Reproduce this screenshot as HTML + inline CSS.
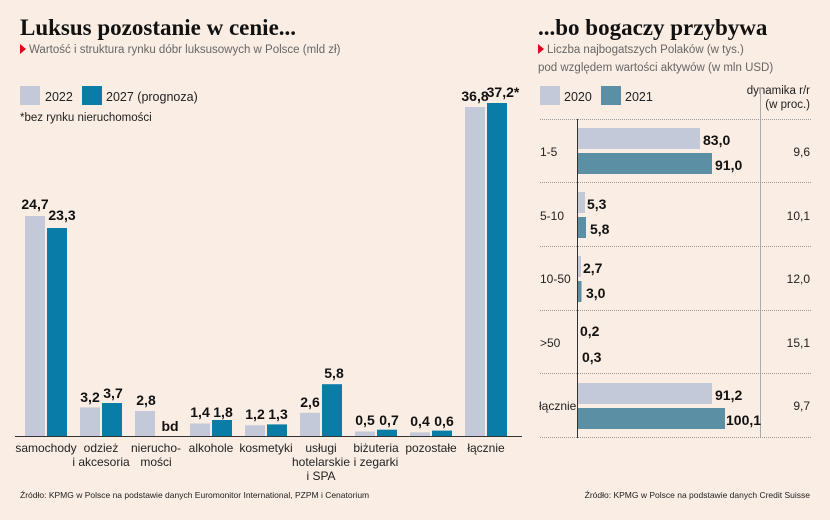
<!DOCTYPE html>
<html><head><meta charset="utf-8"><style>
html,body{margin:0;padding:0;background:#faede3;}
svg{display:block;font-family:"Liberation Sans","DejaVu Sans",sans-serif;}
</style></head><body>
<svg width="830" height="520" viewBox="0 0 830 520" xmlns="http://www.w3.org/2000/svg">
<rect width="830" height="520" fill="#faede3"/>
<text x="20" y="35" font-family="Liberation Serif,serif" font-weight="bold" font-size="23" fill="#111">Luksus pozostanie w cenie...</text>
<path d="M20 44 L26 49 L20 54 Z" fill="#e2001a"/>
<text x="29" y="53" font-size="11.5" fill="#666">Wartość i struktura rynku dóbr luksusowych w Polsce (mld zł)</text>
<rect x="20" y="86" width="20" height="19" fill="#c3c9d8"/>
<text x="45" y="101" font-size="12.5" fill="#222">2022</text>
<rect x="82" y="86" width="20" height="19" fill="#0a7da6"/>
<text x="106" y="101" font-size="12.5" fill="#222">2027 (prognoza)</text>
<text x="20" y="121" font-size="11.5" fill="#222">*bez rynku nieruchomości</text>

<g fill="#c3c9d8">
<rect x="25" y="216" width="20" height="220"/>
<rect x="80" y="407.4" width="20" height="28.6"/>
<rect x="135" y="411" width="20" height="25"/>
<rect x="190" y="423.5" width="20" height="12.5"/>
<rect x="245" y="425.3" width="20" height="10.7"/>
<rect x="300" y="412.8" width="20" height="23.2"/>
<rect x="355" y="431.5" width="20" height="4.5"/>
<rect x="410" y="432.4" width="20" height="3.6"/>
<rect x="465" y="107" width="20" height="329"/>
</g>
<g fill="#0a7da6">
<rect x="47" y="228" width="20" height="208"/>
<rect x="102" y="403" width="20" height="33"/>
<rect x="212" y="420" width="20" height="16"/>
<rect x="267" y="424.4" width="20" height="11.6"/>
<rect x="322" y="384.2" width="20" height="51.8"/>
<rect x="377" y="429.7" width="20" height="6.3"/>
<rect x="432" y="430.6" width="20" height="5.4"/>
<rect x="487" y="103" width="20" height="333"/>
</g>
<line x1="15" y1="436.5" x2="522" y2="436.5" stroke="#333" stroke-width="1"/>
<g font-size="14" font-weight="bold" fill="#111" text-anchor="middle">
<text x="35" y="209">24,7</text><text x="62" y="220">23,3</text>
<text x="90" y="402">3,2</text><text x="113" y="398">3,7</text>
<text x="146" y="405">2,8</text><text x="170" y="431">bd</text>
<text x="200" y="417">1,4</text><text x="223" y="417">1,8</text>
<text x="255" y="419">1,2</text><text x="278" y="419">1,3</text>
<text x="310" y="407">2,6</text><text x="334" y="378">5,8</text>
<text x="365" y="425">0,5</text><text x="389" y="425">0,7</text>
<text x="420" y="426">0,4</text><text x="444" y="426">0,6</text>
<text x="475" y="101">36,8</text><text x="503" y="97">37,2*</text>
</g>
<g font-size="12" fill="#222" text-anchor="middle">
<text x="46" y="452">samochody</text>
<text x="101" y="452">odzież</text><text x="101" y="466">i akcesoria</text>
<text x="156" y="452">nierucho-</text><text x="156" y="466">mości</text>
<text x="211" y="452">alkohole</text>
<text x="266" y="452">kosmetyki</text>
<text x="321" y="452">usługi</text><text x="321" y="466">hotelarskie</text><text x="321" y="480">i SPA</text>
<text x="376" y="452">biżuteria</text><text x="376" y="466">i zegarki</text>
<text x="431" y="452">pozostałe</text>
<text x="486" y="452">łącznie</text>
</g>
<text x="20" y="498" font-size="8.5" fill="#222">Źródło: KPMG w Polsce na podstawie danych Euromonitor International, PZPM i Cenatorium</text>

<text x="538" y="35" font-family="Liberation Serif,serif" font-weight="bold" font-size="23" fill="#111">...bo bogaczy przybywa</text>
<path d="M538 44 L544 49 L538 54 Z" fill="#e2001a"/>
<text x="547" y="53" font-size="11.5" fill="#666">Liczba najbogatszych Polaków (w tys.)</text>
<text x="538" y="71" font-size="11.5" fill="#666">pod względem wartości aktywów (w mln USD)</text>
<rect x="540" y="86" width="20" height="19" fill="#c3c9d8"/>
<text x="564" y="101" font-size="12.5" fill="#222">2020</text>
<rect x="601" y="86" width="20" height="19" fill="#5b8fa3"/>
<text x="625" y="101" font-size="12.5" fill="#222">2021</text>
<text x="810" y="94" font-size="11.5" fill="#222" text-anchor="end">dynamika r/r</text>
<text x="810" y="108" font-size="11.5" fill="#222" text-anchor="end">(w proc.)</text>
<line x1="760.5" y1="88" x2="760.5" y2="437" stroke="#aaa" stroke-width="1"/>
<g stroke="#999" stroke-width="1" stroke-dasharray="1,1">
<line x1="540" y1="119.5" x2="812" y2="119.5"/>
<line x1="540" y1="182.5" x2="812" y2="182.5"/>
<line x1="540" y1="246.5" x2="812" y2="246.5"/>
<line x1="540" y1="310.5" x2="812" y2="310.5"/>
<line x1="540" y1="373.5" x2="812" y2="373.5"/>
<line x1="540" y1="437.5" x2="812" y2="437.5"/>
</g>
<g fill="#c3c9d8">
<rect x="577" y="128" width="123" height="21"/>
<rect x="577" y="192" width="8" height="21"/>
<rect x="577" y="256" width="4" height="21"/>
<rect x="577" y="319" width="0.5" height="21"/>
<rect x="577" y="383" width="135" height="21"/>
</g>
<g fill="#5b8fa3">
<rect x="577" y="153" width="135" height="21"/>
<rect x="577" y="217" width="9" height="21"/>
<rect x="577" y="281" width="4.5" height="21"/>
<rect x="577" y="344" width="0.5" height="21"/>
<rect x="577" y="408" width="148" height="21"/>
</g>
<line x1="577.5" y1="119" x2="577.5" y2="438" stroke="#333" stroke-width="1"/>
<g font-size="14" font-weight="bold" fill="#111">
<text x="703" y="145">83,0</text><text x="715" y="170">91,0</text>
<text x="587" y="209">5,3</text><text x="590" y="234">5,8</text>
<text x="583" y="273">2,7</text><text x="586" y="298">3,0</text>
<text x="580" y="336">0,2</text><text x="582" y="362">0,3</text>
<text x="715" y="400">91,2</text><text x="726" y="425">100,1</text>
</g>
<g font-size="12" fill="#222">
<text x="540" y="156">1-5</text>
<text x="540" y="220">5-10</text>
<text x="540" y="283">10-50</text>
<text x="540" y="347">&gt;50</text>
<text x="539" y="410">łącznie</text>
</g>
<g font-size="12" fill="#222" text-anchor="end">
<text x="810" y="156">9,6</text>
<text x="810" y="220">10,1</text>
<text x="810" y="283">12,0</text>
<text x="810" y="347">15,1</text>
<text x="810" y="410">9,7</text>
</g>
<text x="810" y="498" font-size="8.5" fill="#222" text-anchor="end">Źródło: KPMG w Polsce na podstawie danych Credit Suisse</text>
</svg>
</body></html>
